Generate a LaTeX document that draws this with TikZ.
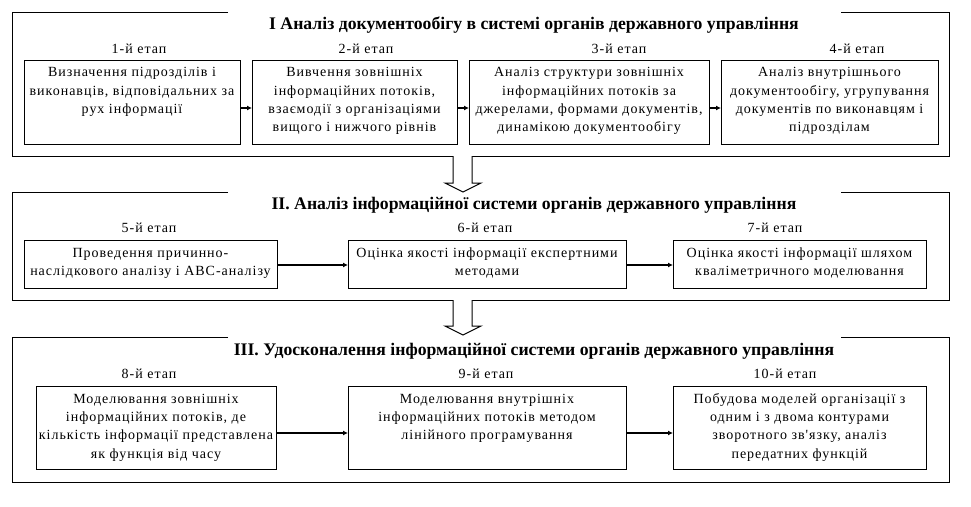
\documentclass[tikz,border=0pt]{standalone}
\usepackage{fontspec}
\setmainfont{Liberation Serif}
\newfontfamily\spacedfont[LetterSpace=7]{Liberation Serif}
\usetikzlibrary{arrows.meta}
\tikzset{
  frameline/.style={draw=black, line width=1pt},
  stagebox/.style={draw=black, line width=1pt, rectangle, inner sep=0pt, outer sep=0pt},
  boxtext/.style={anchor=north, inner sep=0pt, align=center, font=\spacedfont\fontsize{14}{18.3}\selectfont},
  stagelabel/.style={anchor=base, inner sep=0pt, font=\spacedfont\fontsize{14}{16}\selectfont},
  grouptitle/.style={anchor=base, inner sep=0pt, font=\bfseries\fontsize{17.7}{21}\selectfont},
  flow/.style={draw=black, line width=1.3pt, -{Latex[length=5pt,width=5pt]}},
  bigarrow/.style={draw=black, line width=1pt, fill=white, line join=miter}
}
\newcommand{\firstline}{\rule{0pt}{12pt}}
\begin{document}
\begin{tikzpicture}[x=1pt,y=-1pt]
\useasboundingbox (0,0) rectangle (971,506);
\fill[white] (0,0) rectangle (971,506);

% ---------- Group I ----------
\draw[frameline] (228,12) -- (12,12) -- (12,156) -- (949,156) -- (949,12) -- (841,12);
\node[grouptitle] (g1) at (534,29) {I Аналіз документообігу в системі органів державного управління};

\node[stagelabel] (l1) at (139,53) {1-й етап};
\node[stagelabel] (l2) at (366,53) {2-й етап};
\node[stagelabel] (l3) at (619,53) {3-й етап};
\node[stagelabel] (l4) at (857,53) {4-й етап};

\node[stagebox, minimum width=216, minimum height=84] (b1) at (132,102) {};
\node[stagebox, minimum width=205, minimum height=84] (b2) at (354.5,102) {};
\node[stagebox, minimum width=240, minimum height=84] (b3) at (589,102) {};
\node[stagebox, minimum width=217, minimum height=84] (b4) at (829.5,102) {};

\node[boxtext] (t1) at ([yshift=-4.5pt]b1.north) {\firstline Визначення підрозділів і\\виконавців, відповідальних за\\рух інформації};
\node[boxtext] (t2) at ([yshift=-4.5pt]b2.north) {\firstline Вивчення зовнішніх\\інформаційних потоків,\\взаємодії з організаціями\\вищого і нижчого рівнів};
\node[boxtext] (t3) at ([yshift=-4.5pt]b3.north) {\firstline Аналіз структури зовнішніх\\інформаційних потоків за\\джерелами, формами документів,\\динамікою документообігу};
\node[boxtext] (t4) at ([yshift=-4.5pt]b4.north) {\firstline Аналіз внутрішнього\\документообігу, угрупування\\документів по виконавцям і\\підрозділам};

\draw[flow] ([yshift=-6pt]b1.east) -- ([yshift=-6pt]b2.west);
\draw[flow] ([yshift=-6pt]b2.east) -- ([yshift=-6pt]b3.west);
\draw[flow] ([yshift=-6pt]b3.east) -- ([yshift=-6pt]b4.west);

% big arrow I -> II
\draw[bigarrow] (453,156) -- (453,183) -- (445,183) -- (463,192) -- (481,183) -- (472,183) -- (472,156);

% ---------- Group II ----------
\draw[frameline] (228,192) -- (12,192) -- (12,300) -- (949,300) -- (949,192) -- (841,192);
\node[grouptitle] (g2) at (534,209) {II. Аналіз інформаційної системи органів державного управління};

\node[stagelabel] (l5) at (149,232) {5-й етап};
\node[stagelabel] (l6) at (485,232) {6-й етап};
\node[stagelabel] (l7) at (775,232) {7-й етап};

\node[stagebox, minimum width=253, minimum height=48] (b5) at (150.5,264) {};
\node[stagebox, minimum width=278, minimum height=48] (b6) at (487,264) {};
\node[stagebox, minimum width=253, minimum height=48] (b7) at (799.5,264) {};

\node[boxtext] (t5) at ([yshift=-5pt]b5.north) {\firstline Проведення причинно-\\наслідкового аналізу і АВС-аналізу};
\node[boxtext] (t6) at ([yshift=-5pt]b6.north) {\firstline Оцінка якості інформації експертними\\методами};
\node[boxtext] (t7) at ([yshift=-5pt]b7.north) {\firstline Оцінка якості інформації шляхом\\кваліметричного моделювання};

\draw[flow] ([yshift=-1pt]b5.east) -- ([yshift=-1pt]b6.west);
\draw[flow] ([yshift=-1pt]b6.east) -- ([yshift=-1pt]b7.west);

% big arrow II -> III
\draw[bigarrow] (453,300) -- (453,326) -- (445,326) -- (463,335) -- (481,326) -- (472,326) -- (472,300);

% ---------- Group III ----------
\draw[frameline] (228,337) -- (12,337) -- (12,482) -- (949,482) -- (949,337) -- (841,337);
\node[grouptitle] (g3) at (534,355) {III. Удосконалення інформаційної системи органів державного управління};

\node[stagelabel] (l8) at (149,378) {8-й етап};
\node[stagelabel] (l9) at (486,378) {9-й етап};
\node[stagelabel] (l10) at (785,378) {10-й етап};

\node[stagebox, minimum width=240, minimum height=83] (b8) at (156,427.5) {};
\node[stagebox, minimum width=278, minimum height=83] (b9) at (487,427.5) {};
\node[stagebox, minimum width=253, minimum height=83] (b10) at (799.5,427.5) {};

\node[boxtext] (t8) at ([yshift=-5pt]b8.north) {\firstline Моделювання зовнішніх\\інформаційних потоків, де\\кількість інформації представлена\\як функція від часу};
\node[boxtext] (t9) at ([yshift=-5pt]b9.north) {\firstline Моделювання внутрішніх\\інформаційних потоків методом\\лінійного програмування};
\node[boxtext] (t10) at ([yshift=-5pt]b10.north) {\firstline Побудова моделей організації з\\одним і з двома контурами\\зворотного зв'язку, аналіз\\передатних функцій};

\draw[flow] ([yshift=-5.5pt]b8.east) -- ([yshift=-5.5pt]b9.west);
\draw[flow] ([yshift=-5.5pt]b9.east) -- ([yshift=-5.5pt]b10.west);
\end{tikzpicture}
\end{document}
